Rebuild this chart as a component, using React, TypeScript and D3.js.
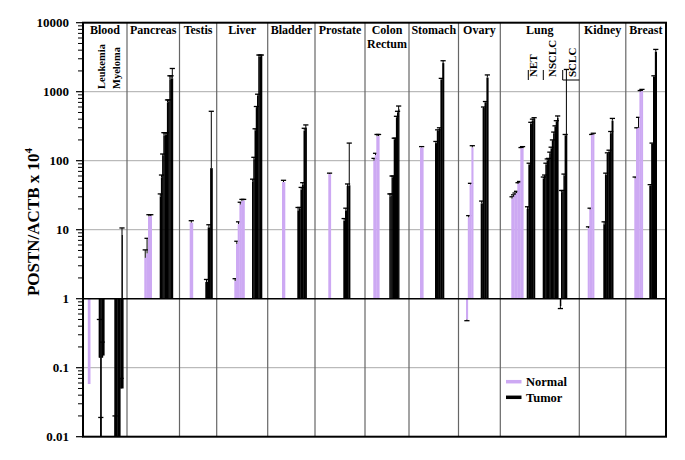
import * as React from "react";
import * as d3 from "d3";

// tissue columns, left to right
const tissues = ["Blood", "Pancreas", "Testis", "Liver", "Bladder", "Prostate", "Colon\nRectum", "Stomach", "Ovary", "Lung", "Kidney", "Breast"];
const yTicks = [0.01, 0.1, 1, 10, 100, 1000, 10000];
const gridValues = [0.1, 10, 100, 1000];
const lungSubtypes = ["NET", "NSCLC", "SCLC"];
const bloodSubtypes = ["Leukemia", "Myeloma"];
const legendItems = ["Normal", "Tumor"];

// each sample: [value, error cap] (cap null = no error bar), in drawing order
const bloodNormal = [[0.058, null]];
const leukemiaTumor = [[0.14, 0.5], [0.004, 0.019], [0.14, 0.235], [0.15, null]];
const myelomaTumor = [[0.004, 0.02], [0.004, null], [0.004, null], [0.004, null], [0.05, 0.07], [0.05, null]];
const myelomaHigh = [[8.4, 10.6]];
const pancreasNormal = [[3.9, 5.1], [4.5, 7.5], [15.5, 16.5], [15.8, 16.5]];
const pancreasTumor = [[30, 33], [57, 62], [117, 125], [230, 255], [235, 255], [240, 255], [700, 760], [718, 760], [1500, 1700], [1540, 1700], [1560, 2170]];
const testisNormal = [[12.6, 13.5]];
const testisTumor = [[1.75, 1.9], [10.8, 11.8], [78, 520]];
const liverNormal = [[1.8, 1.95], [6.2, 6.8], [12, 13], [23, 25], [26, 27.5], [26.5, 27.5]];
const liverTumor = [[50, 54], [105, 112], [275, 290], [580, 610], [880, 920], [3200, 3400], [3250, 3400], [3300, 3400]];
const bladderNormal = [[49, 52]];
const bladderTumor = [[19, 21], [20, 21], [38, 41], [45, 48], [270, 295], [290, 330]];
const prostateNormal = [[64, 66]];
const prostateTumor = [[13.5, 14.5], [19, 20.5], [43, 46], [44, 180]];
const colonNormal = [[100, 108], [120, 128], [225, 240], [228, 240]];
const colonTumor = [[30, 33], [31, 33], [57, 60], [58, 60], [200, 212], [210, 212], [420, 440], [500, 520], [560, 620]];
const stomachNormal = [[155, 160]];
const stomachTumor = [[180, 190], [270, 280], [290, 300], [1500, 1560], [2600, 2810]];
const ovaryNormal = [[0.5, 0.48], [15, 16], [45, 47], [155, 165]];
const ovaryTumor = [[24, 26], [580, 600], [700, 720], [1600, 1750]];
const lungNormal = [[28, 30], [30, 32], [32, 34], [34, 36], [46, 48], [48, 50], [150, 155], [152, 160]];
const netTumor = [[20, 21.5], [88, 92], [340, 360], [380, 400], [400, 420]];
const nsclcTumor = [[55, 58], [60, 62], [88, 92], [100, 106], [105, 108], [128, 133], [150, 157], [195, 200], [250, 260], [310, 320], [370, 380], [420, 445]];
const sclcTumor = [[0.78, 0.72], [35, 37], [36, 37], [60, 64], [230, 240], [235, 2100]];
const kidneyNormal = [[10.5, 11], [19.5, 20.5], [235, 240], [240, 250]];
const kidneyTumor = [[12, 13], [62, 66], [125, 130], [135, 142], [250, 265], [380, 410]];
const breastNormal = [[55, 58], [290, 300], [300, 425], [1000, 1040], [1020, 1080]];
const breastTumor = [[43, 45], [175, 180], [1650, 1700], [3800, 4100]];

// layout (plot units, 0 = left axis)
const W = 685, H = 460;
const M = { left: 83, right: 666, top: 22.7, bottom: 436.7 };
const tissueEdges = [0, 44, 96.5, 133.7, 184.7, 232, 282, 326, 375.5, 417.3, 496.3, 542.8, 583];
const groups = [
  { data: bloodNormal, kind: "normal", x0: 4.8, w: 2.4 },
  { data: leukemiaTumor, kind: "tumor", x0: 15.7, w: 1.4 },
  { data: myelomaTumor, kind: "tumor", x0: 31.3, w: 1.5 },
  { data: myelomaHigh, kind: "tumor", x0: 38.4, w: 1.2 },
  { data: pancreasNormal, kind: "normal", x0: 61.3, w: 1.85 },
  { data: pancreasTumor, kind: "tumor", x0: 76.7, w: 1.2 },
  { data: testisNormal, kind: "normal", x0: 106.7, w: 3.2 },
  { data: testisTumor, kind: "tumor", x0: 122.3, w: 2.4 },
  { data: liverNormal, kind: "normal", x0: 151.3, w: 1.7 },
  { data: liverTumor, kind: "tumor", x0: 169, w: 1.25 },
  { data: bladderNormal, kind: "normal", x0: 199, w: 3 },
  { data: bladderTumor, kind: "tumor", x0: 214.3, w: 1.55 },
  { data: prostateNormal, kind: "normal", x0: 245.3, w: 2.5 },
  { data: prostateTumor, kind: "tumor", x0: 260.3, w: 1.7 },
  { data: colonNormal, kind: "normal", x0: 290.3, w: 1.5 },
  { data: colonTumor, kind: "tumor", x0: 306.3, w: 1.1 },
  { data: stomachNormal, kind: "normal", x0: 337, w: 3.3 },
  { data: stomachTumor, kind: "tumor", x0: 352, w: 1.8 },
  { data: ovaryNormal, kind: "normal", x0: 383, w: 1.8 },
  { data: ovaryTumor, kind: "tumor", x0: 397.7, w: 1.9 },
  { data: lungNormal, kind: "normal", x0: 428.3, w: 1.5 },
  { data: netTumor, kind: "tumor", x0: 443.7, w: 1.65 },
  { data: nsclcTumor, kind: "tumor", x0: 459.7, w: 1.3 },
  { data: sclcTumor, kind: "tumor", x0: 476.8, w: 1.2 },
  { data: kidneyNormal, kind: "normal", x0: 504.7, w: 1.6 },
  { data: kidneyTumor, kind: "tumor", x0: 520.3, w: 1.65 },
  { data: breastNormal, kind: "normal", x0: 551.3, w: 1.7 },
  { data: breastTumor, kind: "tumor", x0: 566.3, w: 1.85 },
];

const PURPLE = "#cda9f3";
const FONT = "'Liberation Serif', 'Times New Roman', serif";

export default function App() {
  const x = d3.scaleLinear().domain([0, 583]).range([M.left, M.right]);
  const y = d3.scaleLog().domain([0.01, 10000]).range([M.bottom, M.top]).clamp(true);
  const y1 = y(1);

  const minor = [];
  for (let e = -2; e < 4; e++) for (let k = 2; k < 10; k++) minor.push(k * Math.pow(10, e));

  const bars = [], capsBefore = [], capsAfter = [];
  groups.forEach((g, gi) => {
    g.data.forEach(([v, c], i) => {
      const xl = x(g.x0 + i * g.w);
      const bw = x(g.w) - x(0);
      const yv = y(v);
      bars.push(
        <rect key={`b${gi}-${i}`} x={xl} width={bw + 0.3} y={Math.min(yv, y1)} height={Math.abs(yv - y1)}
          fill={g.kind === "normal" ? PURPLE : "#000"} />
      );
      if (c != null) {
        const xc = xl + bw / 2;
        const yc = y(c);
        const el = (
          <g key={`c${gi}-${i}`} stroke="#000">
            <line x1={xc} x2={xc} y1={yv} y2={yc} strokeWidth={1} />
            <line x1={xc - 2.6} x2={xc + 2.6} y1={yc} y2={yc} strokeWidth={1.3} />
          </g>
        );
        if (v < 1) capsAfter.push(el); else capsBefore.push(el);
      }
    });
  });

  return (
    <svg width={W} height={H} style={{ position: "absolute", left: 0, top: 0, background: "#fff" }} fontFamily={FONT}>
      {/* grid */}
      {gridValues.map(v => (
        <line key={`g${v}`} x1={M.left} x2={M.right} y1={y(v)} y2={y(v)} stroke="#aaa" strokeWidth={1} />
      ))}
      {tissueEdges.slice(1, -1).map((e, i) => (
        <line key={`s${i}`} x1={x(e)} x2={x(e)} y1={M.top} y2={M.bottom} stroke="#666" strokeWidth={1.2} />
      ))}

      {capsBefore}
      {bars}
      {capsAfter}

      <line x1={M.left} x2={M.right} y1={y1} y2={y1} stroke="#000" strokeWidth={1.4} />
      <rect x={M.left} y={M.top} width={M.right - M.left} height={M.bottom - M.top} fill="none" stroke="#000" strokeWidth={2} />

      {/* y axis */}
      {minor.map(v => (
        <line key={`m${v}`} x1={M.left - 5} x2={M.left} y1={y(v)} y2={y(v)} stroke="#000" strokeWidth={1} />
      ))}
      {yTicks.map(v => (
        <g key={`t${v}`}>
          <line x1={M.left - 7} x2={M.left} y1={y(v)} y2={y(v)} stroke="#000" strokeWidth={1.2} />
          <text x={69} y={y(v)} dy="0.35em" textAnchor="end" fontWeight="bold" fontSize={13}>{String(v)}</text>
        </g>
      ))}
      <text transform={`translate(39,222) rotate(-90)`} textAnchor="middle" fontWeight="bold" fontSize={17}>
        POSTN/ACTB x 10<tspan dy={-7} fontSize={11}>4</tspan>
      </text>

      {/* tissue labels */}
      {tissues.map((t, i) => {
        const cx = (x(tissueEdges[i]) + x(tissueEdges[i + 1])) / 2;
        return t.split("\n").map((line, j) => (
          <text key={`l${i}-${j}`} x={cx} y={34 + j * 14} textAnchor="middle" fontWeight="bold" fontSize={12}>{line}</text>
        ));
      })}

      {/* blood subtypes */}
      {bloodSubtypes.map((s, i) => (
        <text key={s} transform={`translate(${105.4 + i * 15},89) rotate(-90)`} fontWeight="bold" fontSize={10.5}>{s}</text>
      ))}

      {/* lung subtypes */}
      {lungSubtypes.map((s, i) => {
        const lx = [x(445.3), x(460.3), x(479.7)][i];
        const tx = [x(453.5), x(472.5), x(492.5)][i];
        return (
          <g key={s}>
            <line x1={lx} x2={lx} y1={70} y2={80} stroke="#000" strokeWidth={1} />
            <text transform={`translate(${tx},77) rotate(-90)`} fontWeight="bold" fontSize={11}>{s}</text>
          </g>
        );
      })}
      <line x1={x(479.7)} x2={x(496.3)} y1={80} y2={80} stroke="#000" strokeWidth={1} />

      {/* legend */}
      {legendItems.map((s, i) => (
        <g key={s}>
          <line x1={506} x2={521.5} y1={381.7 + i * 15.6} y2={381.7 + i * 15.6} stroke={i === 0 ? PURPLE : "#000"} strokeWidth={3.5} />
          <text x={526} y={386 + i * 15.6} fontWeight="bold" fontSize={12.5}>{s}</text>
        </g>
      ))}
    </svg>
  );
}
